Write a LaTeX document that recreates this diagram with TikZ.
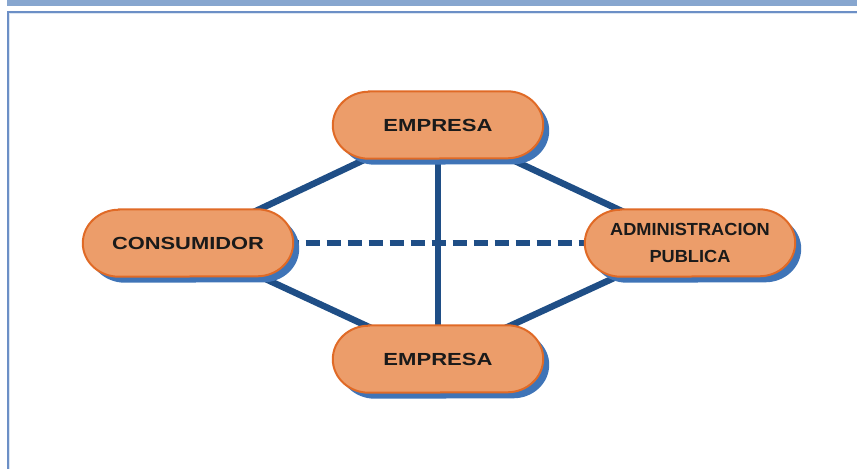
\documentclass[tikz,border=0pt]{standalone}
\usepackage{fontspec}
\usepackage{graphicx}
\setmainfont{Liberation Sans}
\definecolor{pillfill}{HTML}{EC9D6A}
\definecolor{pillborder}{HTML}{E06A26}
\definecolor{pillshadow}{HTML}{3F74B7}
\definecolor{linkblue}{HTML}{1F4E86}
\definecolor{barblue}{HTML}{87A6CF}
\definecolor{frameblue}{HTML}{6C8FC6}
\definecolor{framelight}{HTML}{DCE6F2}
\definecolor{txt}{HTML}{1A1A1A}
\pgfdeclarelayer{lines}
\pgfdeclarelayer{pills}
\pgfsetlayers{lines,pills,main}
\def\rx{36pt}
\def\ry{33.5pt}
\newcommand\pillpath[3]{%
  ([xshift=#2+\rx,yshift=#3]#1.north west) -- ([xshift=#2-\rx,yshift=#3]#1.north east)
  arc[start angle=90,end angle=-90,x radius=\rx,y radius=\ry]
  -- ([xshift=#2+\rx,yshift=#3]#1.south west)
  arc[start angle=270,end angle=90,x radius=\rx,y radius=\ry] -- cycle}
\newcommand\drawpill[1]{%
  \begin{pgfonlayer}{pills}
    \fill[pillshadow] \pillpath{#1}{6pt}{-6pt};
    \filldraw[fill=pillfill,draw=pillborder,line width=2pt] \pillpath{#1}{0pt}{0pt};
  \end{pgfonlayer}}
\tikzset{
  pill/.style={minimum width=210pt,minimum height=67pt,inner sep=0pt,align=center,
    text=txt,font=\bfseries\fontsize{17.5}{26.7}\selectfont},
  link/.style={draw=linkblue,line width=6.5pt},
  dashlink/.style={draw=linkblue,line width=6pt,dash pattern=on 14pt off 7pt,dash phase=8.5pt}
}
\begin{document}
\begin{tikzpicture}[x=1pt,y=-1pt]
\useasboundingbox (0,0) rectangle (857,469);
% header bar and frame
\fill[barblue] (7,0) rectangle (857,5.7);
\fill[frameblue] (7,11) rectangle (857,13);
\fill[frameblue] (7,11) rectangle (9,469);
\fill[framelight] (9,13) rectangle (10,469);
\fill[framelight] (9,13) rectangle (857,14);
% nodes
\node[pill] (top) at (438,125) {\raisebox{-3pt}{\scalebox{1.26}[1]{EMPRESA}}};
\node[pill] (cons) at (188,243) {\raisebox{-2pt}{\scalebox{1.25}[1]{CONSUMIDOR}}};
\node[pill] (admin) at (690,243) {\raisebox{-3pt}{\scalebox{1.04}[1]{ADMINISTRACION}}\\\raisebox{-3pt}{\scalebox{1.04}[1]{PUBLICA}}};
\node[pill] (bot) at (438,359) {\raisebox{-2pt}{\scalebox{1.26}[1]{EMPRESA}}};
\drawpill{top}
\drawpill{cons}
\drawpill{admin}
\drawpill{bot}
% connectors
\begin{pgfonlayer}{lines}
  \draw[dashlink] (cons.east) -- (admin.west);
  \draw[link] (top.center) -- (cons.center);
  \draw[link] (top.center) -- (admin.center);
  \draw[link] (bot.center) -- (cons.center);
  \draw[link] (bot.center) -- (admin.center);
  \draw[link] (top.center) -- (bot.center);
\end{pgfonlayer}
\end{tikzpicture}
\end{document}
